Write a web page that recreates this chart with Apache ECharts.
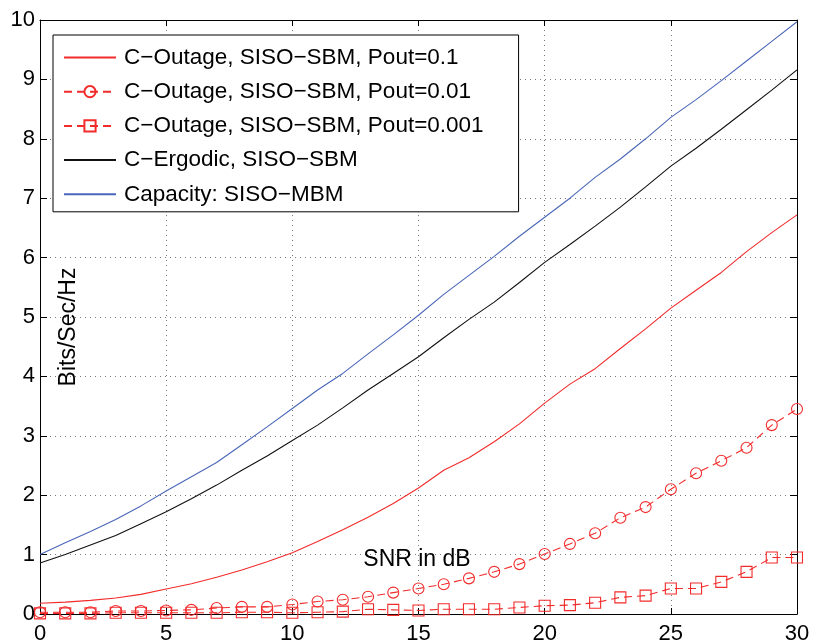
<!DOCTYPE html>
<html><head><meta charset="utf-8">
<script src="https://cdn.jsdelivr.net/npm/echarts@6/dist/echarts.min.js"></script>
<style>html,body{margin:0;padding:0;background:#fff}#c{width:814px;height:641px}</style>
</head><body><div id="c"></div>
<script>
const snr = [0,1,2,3,4,5,6,7,8,9,10,11,12,13,14,15,16,17,18,19,20,21,22,23,24,25,26,27,28,29,30];
const outage01 = [0.18,0.20,0.23,0.27,0.33,0.42,0.51,0.62,0.74,0.88,1.03,1.22,1.42,1.63,1.86,2.12,2.42,2.63,2.90,3.20,3.55,3.87,4.13,4.47,4.80,5.15,5.45,5.75,6.10,6.42,6.72];
const outage001 = [0.03,0.03,0.03,0.05,0.05,0.06,0.07,0.10,0.12,0.12,0.16,0.21,0.24,0.29,0.36,0.43,0.50,0.60,0.71,0.84,1.01,1.18,1.36,1.62,1.80,2.10,2.37,2.58,2.80,3.18,3.45];
const outage0001 = [0.01,0.01,0.01,0.02,0.02,0.02,0.02,0.02,0.03,0.03,0.02,0.03,0.04,0.08,0.07,0.06,0.08,0.08,0.08,0.11,0.14,0.15,0.19,0.28,0.31,0.43,0.43,0.54,0.71,0.95,0.95];
const ergodic = [0.86,1.00,1.16,1.32,1.52,1.72,1.94,2.17,2.42,2.66,2.92,3.18,3.47,3.77,4.05,4.33,4.65,4.96,5.25,5.58,5.92,6.22,6.53,6.85,7.19,7.54,7.84,8.16,8.49,8.82,9.16];
const capacity = [1.00,1.20,1.39,1.59,1.82,2.07,2.31,2.55,2.85,3.15,3.46,3.77,4.05,4.38,4.70,5.03,5.38,5.70,6.02,6.36,6.68,7.00,7.35,7.66,8.00,8.36,8.66,8.98,9.31,9.64,9.97];
const xTicks = [0,5,10,15,20,25,30];
const yTicks = [0,1,2,3,4,5,6,7,8,9,10];
const names = ['C\u2212Outage, SISO\u2212SBM, Pout=0.1','C\u2212Outage, SISO\u2212SBM, Pout=0.01','C\u2212Outage, SISO\u2212SBM, Pout=0.001','C\u2212Ergodic, SISO\u2212SBM','Capacity: SISO\u2212MBM'];
const xTitle = 'SNR in dB';
const yTitle = 'Bits/Sec/Hz';

const RED = '#f22b2b', BLUE = '#4a66b8', BLACK = '#111';
const pairs = a => snr.map((x,i)=>[x,a[i]]);
const font = 'Liberation Sans, Arial, Helvetica, sans-serif';
const grid = {show:true, lineStyle:{color:'#7a7a7a', type:[1,4], width:1}};
const noSym = {color:'rgba(0,0,0,0)', borderWidth:0, opacity:0};
const chart = echarts.init(document.getElementById('c'));
chart.setOption({
  animation:false,
  backgroundColor:'#fff',
  grid:{left:40, right:17, top:20, bottom:27, containLabel:false, outerBoundsMode:'none'},
  graphic:[
    {type:'text', x:417, y:560, z:50, style:{text:xTitle, fontFamily:font, fontSize:23, fill:'#000', textAlign:'center', textVerticalAlign:'middle'}},
    {type:'text', x:69, y:327, z:50, rotation:Math.PI/2, style:{text:yTitle, fontFamily:font, fontSize:23, fill:'#000', textAlign:'center', textVerticalAlign:'middle'}}
  ],
  legend:{
    orient:'vertical', left:53, top:35,
    backgroundColor:'#fff', borderColor:'#000', borderWidth:1,
    padding:[11,35,6,10], itemGap:11.2, itemWidth:52, itemHeight:14,
    textStyle:{fontFamily:font, fontSize:22.5, color:'#000', lineHeight:23, padding:[0,0,0,3]},
    data:[
      {name:names[0], itemStyle:noSym},
      {name:names[1]},
      {name:names[2]},
      {name:names[3], itemStyle:noSym},
      {name:names[4], itemStyle:noSym}
    ]
  },
  xAxis:[{
    type:'value', min:0, max:30, interval:5, position:'bottom',
    axisLine:{show:true, onZero:false, lineStyle:{color:'#000', width:1}},
    axisTick:{show:true, inside:true, length:6, lineStyle:{color:'#000'}},
    axisLabel:{fontFamily:font, fontSize:22, color:'#000', margin:9},
    splitLine:grid
  },{
    type:'value', min:0, max:30, interval:5, position:'top',
    axisLine:{show:true, onZero:false, lineStyle:{color:'#000', width:1}},
    axisTick:{show:true, inside:true, length:6, lineStyle:{color:'#000'}},
    axisLabel:{show:false}, splitLine:{show:false}
  }],
  yAxis:[{
    type:'value', min:0, max:10, interval:1, position:'left',
    axisLine:{show:true, onZero:false, lineStyle:{color:'#000', width:1}},
    axisTick:{show:true, inside:true, length:7, lineStyle:{color:'#000'}},
    axisLabel:{fontFamily:font, fontSize:22, color:'#000', margin:5},
    splitLine:grid
  },{
    type:'value', min:0, max:10, interval:1, position:'right',
    axisLine:{show:true, onZero:false, lineStyle:{color:'#000', width:1}},
    axisTick:{show:true, inside:true, length:7, lineStyle:{color:'#000'}},
    axisLabel:{show:false}, splitLine:{show:false}
  }],
  series:[
    {name:names[0], type:'line', data:pairs(outage01), showSymbol:false, symbol:'none',
     lineStyle:{color:RED, width:1.1}, itemStyle:{color:RED}},
    {name:names[1], type:'line', data:pairs(outage001), symbol:'circle', symbolSize:11,
     lineStyle:{color:RED, width:1.1, type:[8,5]},
     itemStyle:{color:'rgba(0,0,0,0)', borderColor:RED, borderWidth:1.1}},
    {name:names[2], type:'line', data:pairs(outage0001), symbol:'rect', symbolSize:11,
     lineStyle:{color:RED, width:1.1, type:[8,5]},
     itemStyle:{color:'rgba(0,0,0,0)', borderColor:RED, borderWidth:1.1}},
    {name:names[3], type:'line', data:pairs(ergodic), showSymbol:false, symbol:'none',
     lineStyle:{color:BLACK, width:1.1}, itemStyle:{color:BLACK}},
    {name:names[4], type:'line', data:pairs(capacity), showSymbol:false, symbol:'none',
     lineStyle:{color:BLUE, width:1.1}, itemStyle:{color:BLUE}}
  ]
});
</script></body></html>
